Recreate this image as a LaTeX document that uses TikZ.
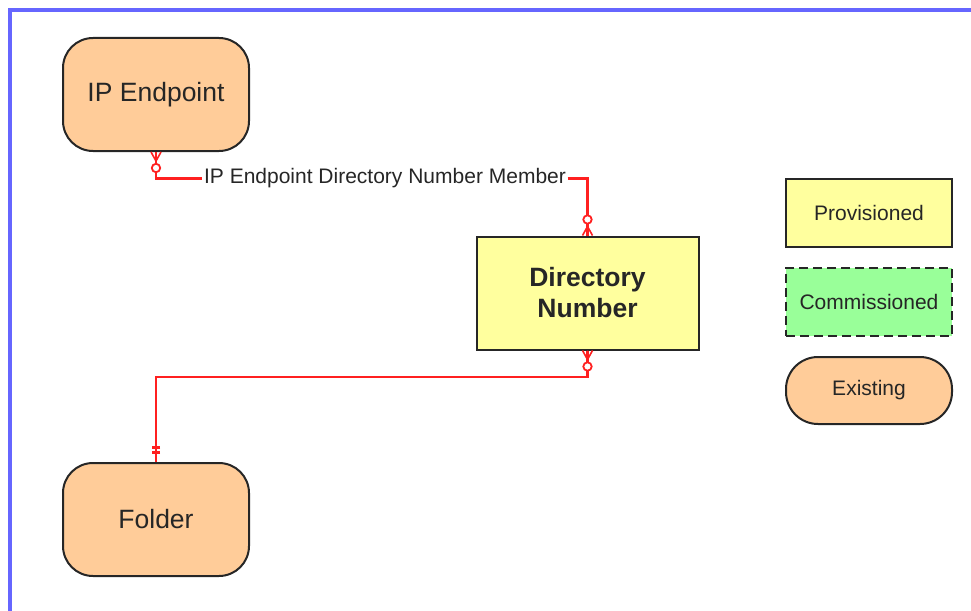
\documentclass[tikz,border=0pt]{standalone}
\usepackage{fontspec}
\setmainfont{Liberation Sans}
\usepackage{xcolor}
\definecolor{peach}{HTML}{FFCC99}
\definecolor{paleYellow}{HTML}{FFFF9E}
\definecolor{paleGreen}{HTML}{99FF99}
\definecolor{frameBlue}{HTML}{6666FF}
\definecolor{relRed}{HTML}{FF2020}
\tikzset{%
  % Specifications for style of nodes:
        base/.style = {rectangle, draw=black!85, line width=2pt,
                       text centered, text=black!85},
    existing/.style = {base, fill=peach, rounded corners=30pt,
                       minimum width=186pt, minimum height=113pt,
                       font=\fontsize{26.5}{31}\selectfont},
  provisioned/.style = {base, fill=paleYellow,
                       minimum width=166pt, minimum height=68pt,
                       font=\fontsize{21}{25}\selectfont},
  % Specifications for style of lines:
     relLine/.style = {draw=relRed, line width=2.3pt},
    relLabel/.style = {inner sep=1.5pt, font=\fontsize{21}{25}\selectfont, text=black!85},
  zeroMany/.pic = {
    \draw[relLine, line width=1.6pt] (0,9) -- (-5,0) (0,9) -- (0,0) (0,9) -- (5,0);
    \draw[relLine, line width=1.8pt, fill=white] (0,16) circle (4.2pt);
  },
  oneOnly/.pic = {
    \draw[relLine, line width=3pt] (-4,10) -- (4,10) (-4,15) -- (4,15);
  },
}

\begin{document}
\begin{tikzpicture}[x=1pt, y=-1pt, node distance=89pt, align=center]
  \useasboundingbox (0,0) rectangle (971,610);
  % outer frame
  \draw[frameBlue, line width=4pt] (10,612) |- (975,10);

  % Specification of nodes (position, etc.)
  \node (ipEp) [existing] at (156,94.5) {IP Endpoint};
  \node (folder) [existing] at (156,519.5) {Folder};
  \node (dirNum) [provisioned, minimum width=222pt, minimum height=113pt,
         font=\bfseries\fontsize{26.5}{31}\selectfont] at (587.5,293) {Directory\\Number};

  % legend
  \node (legProv) [provisioned] at (869,212.5) {Provisioned};
  \node (legComm) [provisioned, below of=legProv, fill=paleGreen, dashed,
         dash pattern=on 9pt off 5pt] {Commissioned};
  \node (legExist) [existing, below of=legComm, minimum width=166pt,
         minimum height=67pt, rounded corners=32pt,
         font=\fontsize{21}{25}\selectfont] {Existing};

  \node (lblMember) [relLabel] at (385,178.5) {IP Endpoint Directory Number Member};
  \coordinate (bendDF) at (156,377);

  % Specification of lines between nodes specified above
  \draw[relLine] (ipEp.south) |- (lblMember.west);
  \draw[relLine] (lblMember.east) -| (dirNum.north);
  \draw[relLine] (dirNum.south) |- (bendDF) -- (folder.north);

  % ends of the lines
  \pic at (ipEp.south) {zeroMany};
  \pic[rotate=180] at (dirNum.north) {zeroMany};
  \pic at (dirNum.south) {zeroMany};
  \pic[rotate=180] at (folder.north) {oneOnly};
\end{tikzpicture}
\end{document}
